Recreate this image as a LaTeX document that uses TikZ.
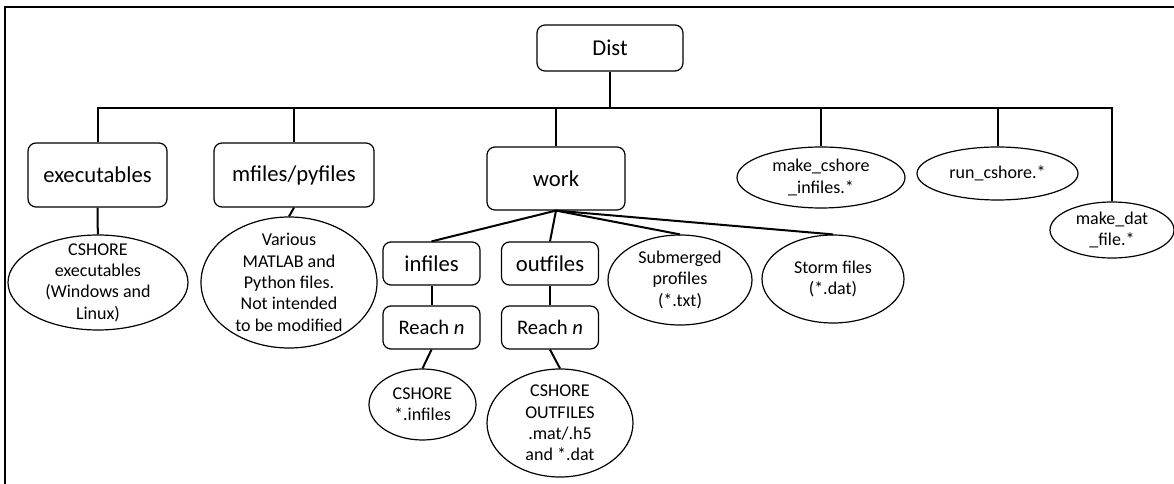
\documentclass[tikz,border=0pt]{standalone}
\usepackage{fontspec}
\setmainfont{Carlito}
\usetikzlibrary{positioning,shapes.geometric}
\newcommand{\dirfont}{\fontsize{17}{20}\selectfont}
\newcommand{\filefont}{\fontsize{13.5}{16}\selectfont}
\tikzset{
  folder/.style 2 args={draw, rounded corners=6pt, line width=0.9pt, align=center,
    inner sep=0pt, minimum width=#1, minimum height=#2, font=\dirfont},
  fileset/.style 2 args={draw, ellipse, line width=0.9pt, align=center,
    inner sep=-10pt, minimum width=#1, minimum height=#2, font=\filefont},
  link/.style={line width=1.5pt},
}
\begin{document}
\begin{tikzpicture}[x=0.75pt,y=-0.75pt]
  \useasboundingbox (0,0) rectangle (1174,484);
  % frame
  \draw[line width=1.75pt] (1174,7) -- (5,7) -- (5,484);
  % folders
  \node[folder={109.5pt}{34.5pt}] (dist) at (610,48) {Dist};
  \node[folder={104.25pt}{48pt}] (exe) at (97.5,175) {executables};
  \node[folder={120pt}{48pt}] (mfiles) at (294,175) {mfiles/pyfiles};
  \node[folder={103.5pt}{47.25pt}] (work) at (556,178.5) {work};
  \node[folder={72.75pt}{32.25pt}] (infiles) at (431.5,263.5) {infiles};
  \node[folder={72.75pt}{32.25pt}] (outfiles) at (550,263.5) {outfiles};
  \node[folder={72.75pt}{32.25pt},font=\fontsize{15.5}{18}\selectfont] (reachin) at (431.5,327.5) {Reach \textit{n}};
  \node[folder={72.75pt}{32.25pt},font=\fontsize{15.5}{18}\selectfont] (reachout) at (550,327.5) {Reach \textit{n}};
  % files
  \node[fileset={126pt}{45.75pt}] (mkinfiles) at (821,177.5) {make\_cshore\\\_infiles.*};
  \node[fileset={120.75pt}{39.75pt}] (runcshore) at (997.5,173.5) {run\_cshore.*};
  \node[fileset={93pt}{42pt}] (mkdat) at (1112,230) {make\_dat\\\_file.*};
  \node[fileset={135pt}{71.25pt}] (exefiles) at (98,282.5) {CSHORE\\executables\\(Windows and\\Linux)};
  \node[fileset={132pt}{98.25pt}] (pyfiles) at (289,282.5) {Various\\MATLAB and\\Python files.\\Not intended\\to be modified};
  \node[fileset={108pt}{67.5pt}] (profiles) at (680,280) {Submerged\\profiles\\(*.txt)};
  \node[fileset={106.5pt}{66pt}] (storms) at (833,279) {Storm files\\(*.dat)};
  \node[fileset={80.25pt}{53.25pt}] (incshore) at (422.5,404.5) {CSHORE\\*.infiles};
  \node[fileset={109.5pt}{81pt}] (outcshore) at (560,423) {CSHORE\\OUTFILES\\.mat/.h5\\and *.dat};
  % top level bus
  \coordinate (bus) at (610,108);
  \draw[link] (dist) -- (bus);
  \foreach \n in {exe,mfiles,work,mkinfiles,runcshore,mkdat}
    \draw[link] (bus) -| (\n);
  % branches
  \draw[link] (exe) -- (exefiles);
  \draw[link] (mfiles.south) -- (pyfiles.north);
  \foreach \n in {infiles,outfiles,profiles,storms}
    \draw[link] (work.south) -- (\n.north);
  \draw[link] (infiles) -- (reachin);
  \draw[link] (outfiles) -- (reachout);
  \draw[link] (reachin.south) -- (incshore.north);
  \draw[link] (reachout.south) -- (outcshore.north);
\end{tikzpicture}
\end{document}
